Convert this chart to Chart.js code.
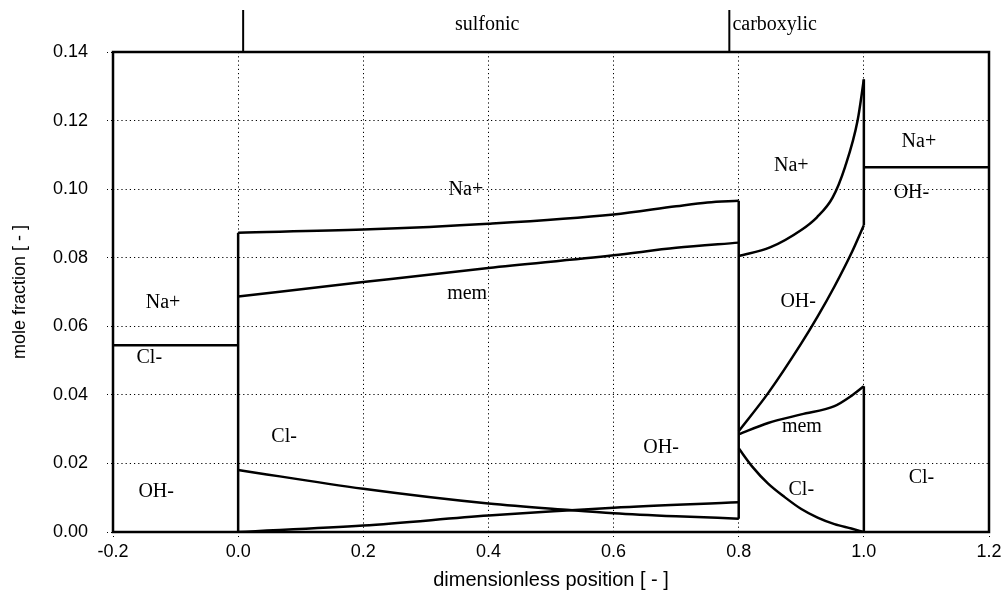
<!DOCTYPE html>
<html>
<head>
<meta charset="utf-8">
<script src="https://cdn.jsdelivr.net/npm/chart.js@4/dist/chart.umd.min.js"></script>
<style>
  html, body { margin: 0; padding: 0; background: #fff; }
  #wrap { width: 1006px; height: 604px; }
</style>
</head>
<body>
<div id="wrap"><canvas id="chart" width="1006" height="604"></canvas></div>
<script>
// profile data
const leftClX = [-0.2, 0.0];
const leftClY = [0.0545, 0.0545];

const sulfLeftX = [0.0, 0.0];
const sulfLeftY = [0.0, 0.0873];

const sulfNaX = [0.0, 0.2, 0.4, 0.6, 0.7, 0.75, 0.8];
const sulfNaY = [0.0873, 0.0882, 0.0899, 0.0926, 0.0950, 0.0961, 0.0966];

const sulfMemX = [0.0, 0.2, 0.4, 0.6, 0.7, 0.8];
const sulfMemY = [0.0687, 0.0729, 0.0770, 0.0807, 0.0829, 0.0844];

const sulfClX = [0.0, 0.2, 0.4, 0.53, 0.6, 0.7, 0.8];
const sulfClY = [0.0181, 0.0126, 0.0083, 0.0064, 0.0055, 0.0046, 0.0039];

const sulfOhX = [0.0, 0.2, 0.4, 0.6, 0.8];
const sulfOhY = [0.0, 0.0019, 0.0048, 0.0071, 0.0087];

const sulfRightX = [0.8, 0.8];
const sulfRightY = [0.0039, 0.0966];

const carbNaX = [0.8, 0.85, 0.9, 0.925, 0.95, 0.97, 0.99, 1.0];
const carbNaY = [0.0805, 0.0830, 0.0881, 0.0918, 0.0975, 0.1065, 0.1200, 0.1320];

const carbOhX = [0.8, 0.847, 0.9, 0.926, 0.953, 0.98, 1.0];
const carbOhY = [0.0294, 0.0405, 0.0550, 0.0628, 0.0716, 0.0813, 0.0895];

const carbMemX = [0.8, 0.847, 0.9, 0.953, 0.98, 1.0];
const carbMemY = [0.0285, 0.0318, 0.0343, 0.0367, 0.0397, 0.0425];

const carbClX = [0.8, 0.822, 0.847, 0.874, 0.9, 0.926, 0.953, 0.98, 1.0];
const carbClY = [0.0244, 0.0190, 0.0141, 0.0101, 0.0067, 0.0042, 0.0023, 0.0010, 0.0];

const carbRightTopX = [1.0, 1.0];
const carbRightTopY = [0.0895, 0.1320];
const carbRightLowX = [1.0, 1.0];
const carbRightLowY = [0.0, 0.0425];

const rightNaX = [1.0, 1.2];
const rightNaY = [0.1064, 0.1064];

// region labels inside the plot
const labelText = ['Na+', 'Cl-', 'OH-', 'Cl-', 'Na+', 'mem', 'OH-', 'Na+', 'OH-', 'mem', 'Cl-', 'Na+', 'OH-', 'Cl-'];
const labelX = [-0.12, -0.142, -0.131, 0.0735, 0.364, 0.366, 0.676, 0.884, 0.895, 0.901, 0.90, 1.088, 1.076, 1.092];
const labelY = [0.0668, 0.0507, 0.0117, 0.0277, 0.0998, 0.0694, 0.0245, 0.1068, 0.0671, 0.0306, 0.0123, 0.1138, 0.0989, 0.0158];

// layer markers above the plot
const markerX = [0.008, 0.785];
const layerText = ['sulfonic', 'carboxylic'];
const layerX = [0.398, 0.79];

function pts(xs, ys) {
    return xs.map((x, i) => ({ x: x, y: ys[i] }));
}

function line(xs, ys, curved) {
    return {
        data: pts(xs, ys),
        showLine: true,
        borderColor: '#000',
        borderWidth: 2.5,
        pointRadius: 0,
        fill: false,
        cubicInterpolationMode: curved ? 'monotone' : 'default',
        tension: 0
    };
}

function fmt(v, d) {
    return (Math.abs(v) < 1e-9 ? 0 : Number(v)).toFixed(d);
}

const datasets = [
    line(leftClX, leftClY, false),
    line(sulfLeftX, sulfLeftY, false),
    line(sulfNaX, sulfNaY, true),
    line(sulfMemX, sulfMemY, true),
    line(sulfClX, sulfClY, true),
    line(sulfOhX, sulfOhY, true),
    line(sulfRightX, sulfRightY, false),
    line(carbNaX, carbNaY, true),
    line(carbOhX, carbOhY, true),
    line(carbMemX, carbMemY, true),
    line(carbClX, carbClY, true),
    line(carbRightTopX, carbRightTopY, false),
    line(carbRightLowX, carbRightLowY, false),
    line(rightNaX, rightNaY, false)
];

const decorPlugin = {
    id: 'decor',
    afterDatasetsDraw(chart) {
        const ctx = chart.ctx;
        const area = chart.chartArea;
        const xs = chart.scales.x;
        const ys = chart.scales.y;
        ctx.save();
        // frame
        ctx.strokeStyle = '#000';
        ctx.lineWidth = 2.5;
        ctx.strokeRect(area.left, area.top, area.right - area.left, area.bottom - area.top);

        // markers above
        ctx.lineWidth = 2;
        markerX.forEach(v => {
            const px = xs.getPixelForValue(v);
            ctx.beginPath();
            ctx.moveTo(px, area.top - 42);
            ctx.lineTo(px, area.top);
            ctx.stroke();
        });

        ctx.fillStyle = '#000';
        ctx.font = '20px "Liberation Serif", "Times New Roman", serif';
        ctx.textBaseline = 'middle';
        layerText.forEach((t, i) => {
            const px = xs.getPixelForValue(layerX[i]);
            ctx.textAlign = i === 0 ? 'center' : 'left';
            ctx.fillText(t, px, area.top - 27);
        });

        ctx.textAlign = 'center';
        labelText.forEach((t, i) => {
            ctx.fillText(t, xs.getPixelForValue(labelX[i]), ys.getPixelForValue(labelY[i]));
        });
        ctx.restore();
    }
};

new Chart(document.getElementById('chart'), {
    type: 'scatter',
    data: { datasets: datasets },
    options: {
        responsive: false,
        animation: false,
        events: [],
        layout: { padding: { top: 52, right: 17, left: 0, bottom: 0 } },
        plugins: {
            legend: { display: false },
            tooltip: { enabled: false }
        },
        scales: {
            x: {
                type: 'linear',
                min: -0.2,
                max: 1.2,
                afterFit: s => { s.height = 72; },
                ticks: {
                    stepSize: 0.2,
                    color: '#000',
                    padding: 3,
                    maxRotation: 0,
                    font: { family: '"Liberation Sans", Arial, sans-serif', size: 18 },
                    callback: v => fmt(v, 1)
                },
                grid: {
                    color: '#000',
                    lineWidth: 1,
                    tickLength: 6,
                    tickColor: '#000',
                    tickBorderDash: [1, 3]
                },
                border: { display: false, dash: [1.2, 3] },
                title: {
                    display: true,
                    text: 'dimensionless position [ - ]',
                    color: '#000',
                    padding: { top: 4, bottom: 12 },
                    font: { family: '"Liberation Sans", Arial, sans-serif', size: 20 }
                }
            },
            y: {
                min: 0,
                max: 0.14,
                afterFit: s => { s.width = 113; },
                ticks: {
                    stepSize: 0.02,
                    color: '#000',
                    padding: 19,
                    font: { family: '"Liberation Sans", Arial, sans-serif', size: 18 },
                    callback: v => fmt(v, 2)
                },
                grid: {
                    color: '#000',
                    lineWidth: 1,
                    tickLength: 6,
                    tickColor: '#000',
                    tickBorderDash: [1, 3]
                },
                border: { display: false, dash: [1.2, 3] },
                title: {
                    display: true,
                    text: 'mole fraction [ - ]',
                    color: '#000',
                    padding: { top: 9, bottom: 4 },
                    font: { family: '"Liberation Sans", Arial, sans-serif', size: 18 }
                }
            }
        }
    },
    plugins: [decorPlugin]
});
</script>
</body>
</html>
